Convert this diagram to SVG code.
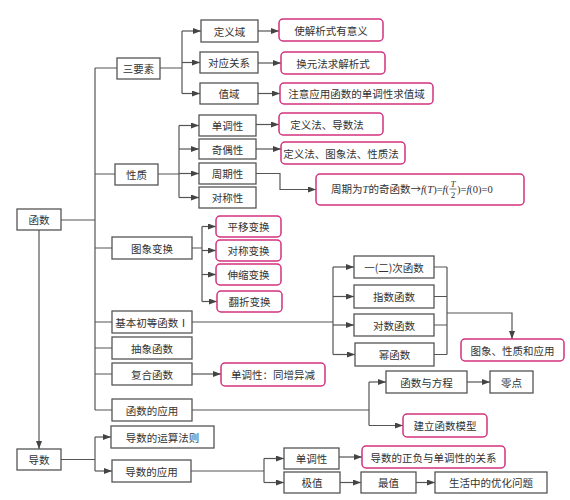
<svg xmlns="http://www.w3.org/2000/svg" width="570" height="500" viewBox="0 0 570 500">
<defs>
<marker id="ah" markerUnits="userSpaceOnUse" markerWidth="8" markerHeight="6" refX="8" refY="3" orient="auto"><path d="M0,0 L8,3 L0,6 z" fill="#444"/></marker>
<style>
.g{fill:#fff;stroke:#555;stroke-width:1.3}
.p{fill:#fff;stroke:#d2327e;stroke-width:1.5}
.t{font-family:"Noto Sans CJK SC","Noto Sans",sans-serif;font-size:10.5px;fill:#333;text-anchor:middle;dominant-baseline:central}
.c{fill:none;stroke:#555;stroke-width:1.2}
.a{fill:none;stroke:#555;stroke-width:1.2;marker-end:url(#ah)}
.m{font-family:"Liberation Serif",serif;font-size:10.5px;fill:#333}
</style>
</defs>
<rect width="570" height="500" fill="#fff"/>
<g id="connectors">
<path class="c" d="M95,68 V410 M95,68 H117 M95,174 H115 M61,220 H95 M95,248 H112 M95,322 H112 M95,348 H112 M95,374 H112 M95,410 H112"/>
<path class="a" d="M39,230 V449"/>
<path class="c" d="M160,68 H182 M182,31 V93.5"/>
<path class="a" d="M182,31 H201"/><path class="a" d="M182,62.5 H200"/><path class="a" d="M182,93.5 H200"/>
<path class="a" d="M258,31 H279"/><path class="a" d="M258,63 H281"/><path class="a" d="M258,93.5 H280"/>
<path class="c" d="M158,174 H179 M179,125.5 V197.5"/>
<path class="a" d="M179,125.5 H199"/><path class="a" d="M179,149 H199"/><path class="a" d="M179,173.5 H199"/><path class="a" d="M179,197.5 H199"/>
<path class="a" d="M256,124.5 H279"/><path class="a" d="M256,149 H281"/>
<path class="a" d="M256,173.5 H280 V189.5 H316"/>
<path class="c" d="M192,248 H202 M202,226.5 V301.5"/>
<path class="a" d="M202,226.5 H216"/><path class="a" d="M202,250.5 H216"/><path class="a" d="M202,274.5 H216"/><path class="a" d="M202,301.5 H217"/>
<path class="c" d="M192,322 H333 M333,267 V354.5"/>
<path class="a" d="M333,267 H354"/><path class="a" d="M333,296.5 H354"/><path class="a" d="M333,325 H354"/><path class="a" d="M333,354.5 H355"/>
<path class="c" d="M434,267 H447 M434,296.5 H447 M434,325 H447 M434,354.5 H447 M447,267 V354.5"/>
<path class="a" d="M447,313 H512 V339"/>
<path class="a" d="M192,374 H221"/>
<path class="c" d="M192,410 H369 M369,382 V425.5"/>
<path class="a" d="M369,382 H386"/><path class="a" d="M369,425.5 H403"/>
<path class="a" d="M467,382 H490"/>
<path class="c" d="M61,459.5 H95 M95,437 V471"/>
<path class="a" d="M95,437 H111"/><path class="a" d="M95,471 H112"/>
<path class="c" d="M191,471 H264 M264,458.5 V482.5"/>
<path class="a" d="M264,458.5 H284"/><path class="a" d="M264,482.5 H284"/>
<path class="a" d="M339,457 H362"/>
<path class="a" d="M340,482.5 H361"/><path class="a" d="M416,482.5 H435"/>
</g>
<g id="n_hanshu"><rect class="g" x="17" y="209" width="44" height="21"/><text class="t" x="39" y="219.5">函数</text></g>
<g id="n_daoshu"><rect class="g" x="17" y="449" width="44" height="21"/><text class="t" x="39" y="459.5">导数</text></g>
<g id="n_sanyaosu"><rect class="g" x="117" y="58" width="43" height="21"/><text class="t" x="138.5" y="68.5">三要素</text></g>
<g id="n_xingzhi"><rect class="g" x="115" y="164" width="43" height="21"/><text class="t" x="136.5" y="174.5">性质</text></g>
<g id="n_tuxiang"><rect class="g" x="112" y="237" width="80" height="22"/><text class="t" x="152" y="248">图象变换</text></g>
<g id="n_jiben"><rect class="g" x="112" y="311" width="80" height="22"/><text class="t" x="152" y="322">基本初等函数Ⅰ</text></g>
<g id="n_chouxiang"><rect class="g" x="112" y="337" width="80" height="22"/><text class="t" x="152" y="348">抽象函数</text></g>
<g id="n_fuhe"><rect class="g" x="112" y="363" width="80" height="22"/><text class="t" x="152" y="374">复合函数</text></g>
<g id="n_yingyong"><rect class="g" x="112" y="399" width="80" height="22"/><text class="t" x="152" y="410">函数的应用</text></g>
<g id="n_yunsuan"><rect class="g" x="111" y="426" width="103" height="22"/><text class="t" x="162.5" y="437">导数的运算法则</text></g>
<g id="n_dyingyong"><rect class="g" x="112" y="460" width="79" height="22"/><text class="t" x="151.5" y="471">导数的应用</text></g>
<g id="n_dingyiyu"><rect class="g" x="201" y="20" width="57" height="22"/><text class="t" x="229.5" y="31">定义域</text></g>
<g id="n_duiying"><rect class="g" x="200" y="52" width="58" height="21"/><text class="t" x="229" y="62.5">对应关系</text></g>
<g id="n_zhiyu"><rect class="g" x="200" y="83" width="58" height="21"/><text class="t" x="229" y="93.5">值域</text></g>
<g id="n_dandiao"><rect class="g" x="199" y="115" width="57" height="21"/><text class="t" x="227.5" y="125.5">单调性</text></g>
<g id="n_jiou"><rect class="g" x="199" y="139" width="57" height="20"/><text class="t" x="227.5" y="149">奇偶性</text></g>
<g id="n_zhouqi"><rect class="g" x="199" y="163" width="57" height="21"/><text class="t" x="227.5" y="173.5">周期性</text></g>
<g id="n_duichen"><rect class="g" x="199" y="187" width="57" height="21"/><text class="t" x="227.5" y="197.5">对称性</text></g>
<g id="n_yier"><rect class="g" x="354" y="256" width="80" height="22"/><text class="t" x="394" y="267">一(二)次函数</text></g>
<g id="n_zhishu"><rect class="g" x="354" y="285" width="80" height="23"/><text class="t" x="394" y="296.5">指数函数</text></g>
<g id="n_duishu"><rect class="g" x="354" y="314" width="80" height="22"/><text class="t" x="394" y="325">对数函数</text></g>
<g id="n_mi"><rect class="g" x="355" y="343" width="79" height="23"/><text class="t" x="394.5" y="354.5">幂函数</text></g>
<g id="n_fangcheng"><rect class="g" x="386" y="371" width="81" height="22"/><text class="t" x="426.5" y="382">函数与方程</text></g>
<g id="n_lingdian"><rect class="g" x="490" y="371" width="43" height="22"/><text class="t" x="511.5" y="382">零点</text></g>
<g id="n_ddandiao"><rect class="g" x="284" y="448" width="55" height="21"/><text class="t" x="311.5" y="458.5">单调性</text></g>
<g id="n_jizhi"><rect class="g" x="284" y="472" width="56" height="21"/><text class="t" x="312" y="482.5">极值</text></g>
<g id="n_zuizhi"><rect class="g" x="361" y="472" width="55" height="21"/><text class="t" x="388.5" y="482.5">最值</text></g>
<g id="n_youhua"><rect class="g" x="435" y="472" width="112" height="21"/><text class="t" x="491" y="482.5">生活中的优化问题</text></g>
<g id="p_jiexi"><rect class="p" x="279" y="19" width="104" height="22" rx="4"/><text class="t" x="331" y="30">使解析式有意义</text></g>
<g id="p_huanyuan"><rect class="p" x="281" y="52" width="104" height="22" rx="4"/><text class="t" x="333" y="63">换元法求解析式</text></g>
<g id="p_zhuyi"><rect class="p" x="280" y="83" width="153" height="21" rx="4"/><text class="t" x="356.5" y="93.5">注意应用函数的单调性求值域</text></g>
<g id="p_dingyi1"><rect class="p" x="279" y="113" width="104" height="22" rx="4"/><text class="t" x="327" y="124">定义法、导数法</text></g>
<g id="p_dingyi2"><rect class="p" x="281" y="142" width="124" height="22" rx="4"/><text class="t" x="341" y="153">定义法、图象法、性质法</text></g>
<g id="p_zhouqi"><rect class="p" x="316" y="174" width="208" height="31" rx="4"/>
<text style="font-family:'Noto Sans CJK SC','Liberation Serif',serif;font-size:10.5px;fill:#333" x="449" y="193" text-anchor="end">周期为<tspan class="m" font-style="italic">T</tspan>的奇函数→<tspan class="m" font-style="italic">f</tspan><tspan class="m">(</tspan><tspan class="m" font-style="italic">T</tspan><tspan class="m">)=</tspan><tspan class="m" font-style="italic">f</tspan><tspan class="m">(</tspan></text>
<text class="m" x="453" y="187" font-style="italic" text-anchor="middle" style="font-size:9px">T</text>
<line x1="449.5" y1="189" x2="456.5" y2="189" stroke="#333" stroke-width="0.7"/>
<text class="m" x="453" y="198" text-anchor="middle" style="font-size:9px">2</text>
<text class="m" x="457" y="193">)=<tspan font-style="italic">f</tspan>(0)=0</text>
</g>
<g id="p_pingyi"><rect class="p" x="216" y="216" width="65" height="21" rx="4"/><text class="t" x="248.5" y="226.5">平移变换</text></g>
<g id="p_duichen"><rect class="p" x="216" y="240" width="65" height="21" rx="4"/><text class="t" x="248.5" y="250.5">对称变换</text></g>
<g id="p_shensuo"><rect class="p" x="216" y="264" width="65" height="21" rx="4"/><text class="t" x="248.5" y="274.5">伸缩变换</text></g>
<g id="p_fanzhe"><rect class="p" x="217" y="291" width="65" height="21" rx="4"/><text class="t" x="249.5" y="301.5">翻折变换</text></g>
<g id="p_tuxiangxz"><rect class="p" x="461" y="339" width="103" height="22" rx="4"/><text class="t" x="512.5" y="350">图象、性质和应用</text></g>
<g id="p_tongzeng"><rect class="p" x="221" y="363" width="104" height="23" rx="4"/><text class="t" x="273" y="374.5">单调性：同增异减</text></g>
<g id="p_moxing"><rect class="p" x="403" y="414" width="84" height="23" rx="4"/><text class="t" x="445" y="425.5">建立函数模型</text></g>
<g id="p_zhengfu"><rect class="p" x="362" y="446" width="143" height="22" rx="4"/><text class="t" x="433.5" y="457">导数的正负与单调性的关系</text></g>
</svg>
